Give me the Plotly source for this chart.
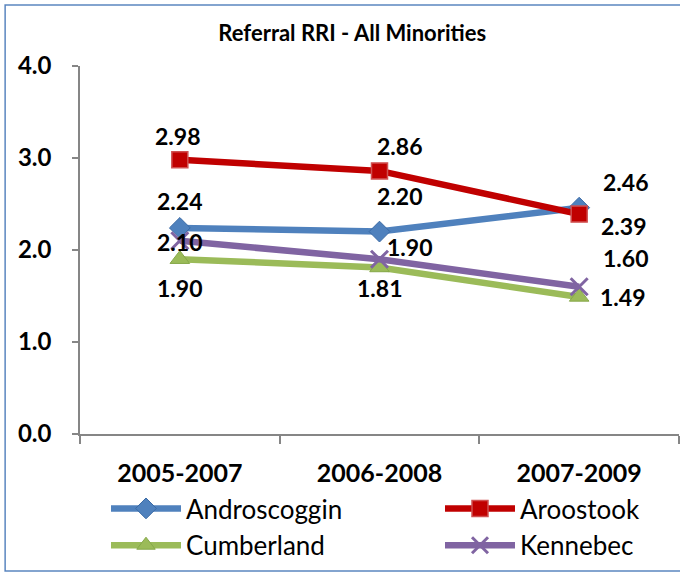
import plotly.graph_objects as go

categories = ["2005-2007", "2006-2008", "2007-2009"]
androscoggin = [2.24, 2.20, 2.46]
aroostook = [2.98, 2.86, 2.39]
cumberland = [1.90, 1.81, 1.49]
kennebec = [2.10, 1.90, 1.60]
y_ticks = [0.0, 1.0, 2.0, 3.0, 4.0]

series = [
    ("Androscoggin", androscoggin, "#4F81BD", dict(symbol="diamond", size=16, color="#4F81BD", line=dict(width=1, color="#3A6AA5")), "legend"),
    ("Aroostook", aroostook, "#C00000", dict(symbol="square", size=16, color="#C00000", line=dict(width=1.5, color="#D05050")), "legend2"),
    ("Cumberland", cumberland, "#9BBB59", dict(symbol="triangle-up", size=17, color="#9BBB59", line=dict(width=1, color="#86A84A")), "legend"),
    ("Kennebec", kennebec, "#8064A2", dict(symbol="x-thin", size=17, color="#8064A2", line=dict(width=3, color="#8064A2")), "legend2"),
]

fig = go.Figure()
for name, vals, col, mk, lg in series:
    fig.add_trace(go.Scatter(x=categories, y=vals, name=name, mode="lines+markers",
                             line=dict(color=col, width=6.5), marker=mk, legend=lg,
                             legendgroup=name))

# label offsets (px) per series per point
offsets = {
    "Androscoggin": [(0, 27), (20, 36), (46, 26)],
    "Aroostook": [(-2, 24), (20, 25), (44, -12)],
    "Cumberland": [(0, -29), (0, -21), (43, 0)],
    "Kennebec": [(0, -1), (30, 12), (46, 29)],
}
for name, vals, col, mk, lg in series:
    for i, v in enumerate(vals):
        dx, dy = offsets[name][i]
        fig.add_annotation(x=categories[i], y=v, text=f"{v:.2f}", showarrow=False,
                           xshift=dx, yshift=dy,
                           font=dict(family="Lato", size=23, color="black", weight="bold"))

fig.add_shape(type="rect", xref="paper", yref="paper", x0=-0.125, x1=1.02, y0=-0.3723, y1=1.1658,
              line=dict(color="#5B86C0", width=1.5), layer="below")

legend_common = dict(orientation="v", yanchor="top", xanchor="left", traceorder="normal",
                     font=dict(family="Lato", size=26, color="black"), itemwidth=70,
                     tracegroupgap=5, bgcolor="rgba(0,0,0,0)")

fig.update_layout(
    width=680, height=573,
    margin=dict(l=80, r=1, t=66, b=139, autoexpand=False),
    paper_bgcolor="white", plot_bgcolor="white",
    title=dict(text="Referral RRI - All Minorities", x=0.518, xanchor="center", y=0.942, yanchor="middle",
               font=dict(family="Lato", size=22, color="black", weight="bold")),
    showlegend=True,
    legend=dict(x=0.0434, y=-0.1386, **legend_common),
    legend2=dict(x=0.601, y=-0.1386, **legend_common),
    xaxis=dict(showgrid=False, showline=True, linecolor="#868686", linewidth=1.5,
               ticks="outside", tickson="boundaries", ticklen=8, tickcolor="#868686", tickwidth=1.5,
               ticklabelstandoff=16,
               tickfont=dict(family="Lato", size=25, color="black", weight="bold"),
               range=[-0.5, 2.5]),
    yaxis=dict(showgrid=False, showline=True, linecolor="#868686", linewidth=1.5,
               ticks="outside", ticklen=6, tickcolor="#868686", tickwidth=1.5,
               tickvals=y_ticks, ticktext=[f"{t:.1f}" for t in y_ticks], range=[0, 4],
               ticklabelstandoff=16, zeroline=False,
               tickfont=dict(family="Lato", size=24, color="black", weight="bold")),
)

fig.write_html("out.html", config={"displayModeBar": False},
               post_script="document.body.style.margin='0';")
